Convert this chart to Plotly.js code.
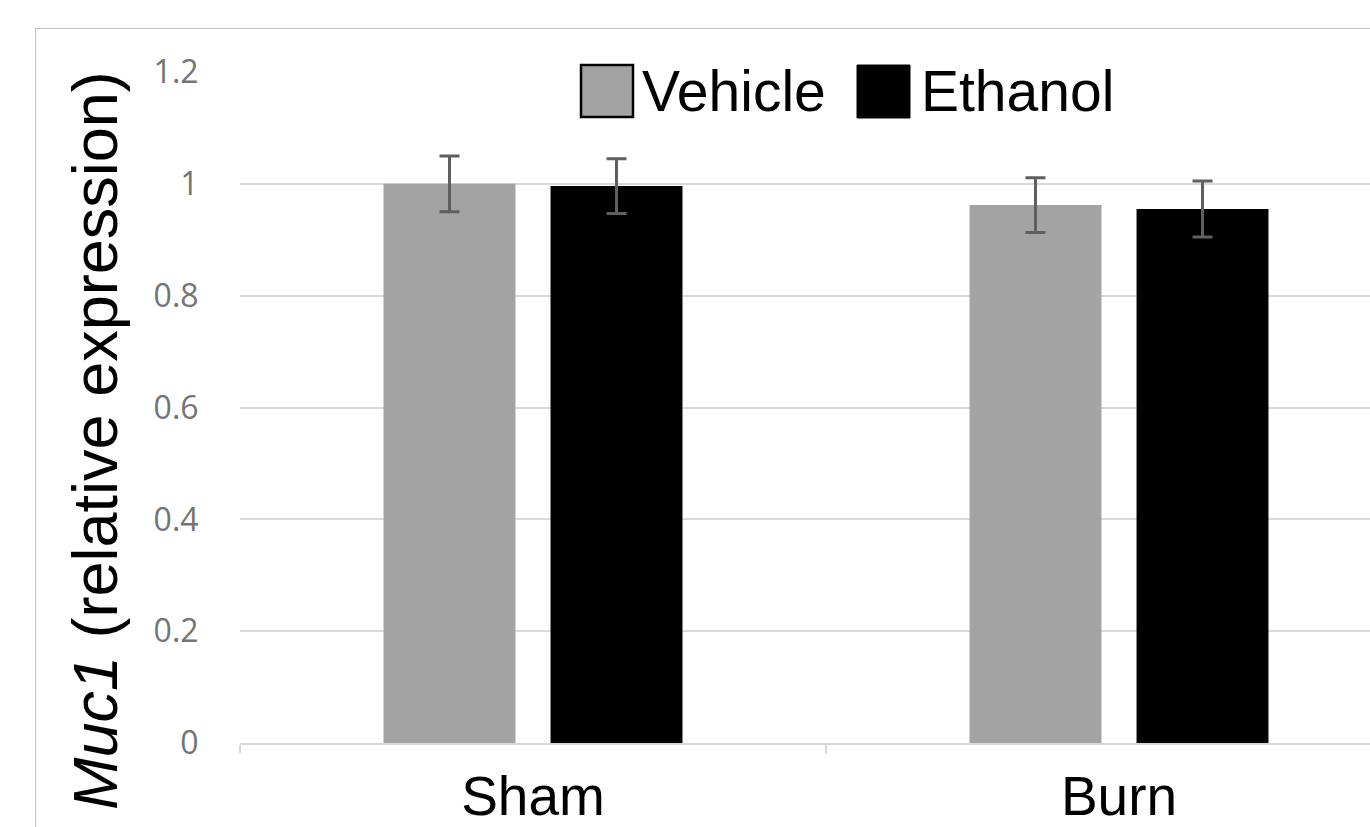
<!DOCTYPE html>
<html>
<head>
<meta charset="utf-8">
<script src="https://cdn.plot.ly/plotly-3.0.1.min.js"></script>
<style>
  html, body { margin:0; padding:0; overflow:hidden; background:#fff; width:1370px; height:827px; }
  #frame { position:absolute; left:35px; top:28px; width:1450px; height:900px; border:1px solid #c3c3c3; box-sizing:border-box; pointer-events:none; z-index:2; }
  #chart { position:absolute; left:0; top:0; width:1440px; height:870px; }
</style>
</head>
<body>
<div id="chart"></div>
<div id="frame"></div>
<script>
// ---- data ----
const categories = ["Sham", "Burn"];
const seriesNames = ["Vehicle", "Ethanol"];
const vehicleValues = [1.0, 0.962];
const vehicleErrors = [0.05, 0.049];
const ethanolValues = [0.996, 0.955];
const ethanolErrors = [0.049, 0.05];
const yTickValues = [0, 0.2, 0.4, 0.6, 0.8, 1.0, 1.2];
const yTickLabels = ["0", "0.2", "0.4", "0.6", "0.8", "1", "1.2"];

const W = 1440, H = 870;
const L = 240, R = 1412, T = 72, B = 743;
const px = v => (v - L) / (R - L);
const py = v => (B - v) / (B - T);

const errStyle = { type: "data", visible: true, color: "#5f5f5f", thickness: 3, width: 10 };

const traces = [
  { type: "bar", name: seriesNames[0], x: categories, y: vehicleValues,
    marker: { color: "#a3a3a3" },
    error_y: Object.assign({ array: vehicleErrors }, errStyle), showlegend: false },
  { type: "bar", name: seriesNames[1], x: categories, y: ethanolValues,
    marker: { color: "#000000" },
    error_y: Object.assign({ array: ethanolErrors }, errStyle), showlegend: false }
];

const legendFont = { family: "Liberation Sans, Arial, sans-serif", size: 57, color: "#000" };

const layout = {
  width: W, height: H,
  margin: { l: L, r: W - R, t: T, b: H - B, pad: 0 },
  paper_bgcolor: "rgba(0,0,0,0)",
  plot_bgcolor: "#fff",
  barmode: "group",
  bargap: 0.43,
  bargroupgap: 0.21,
  showlegend: false,
  xaxis: {
    type: "category",
    showline: true, linecolor: "#d9d9d9", linewidth: 2,
    ticks: "outside", tickson: "boundaries", ticklen: 9, tickcolor: "#d9d9d9", tickwidth: 2,
    showgrid: false, zeroline: false,
    tickfont: { family: "Liberation Sans, Arial, sans-serif", size: 55, color: "#000" },
    ticklabelstandoff: 4
  },
  yaxis: {
    range: [0, 1.2],
    tickvals: yTickValues, ticktext: yTickLabels,
    showgrid: true, gridcolor: "#d9d9d9", gridwidth: 2,
    zeroline: false, showline: false,
    ticks: "outside", ticklen: 34, tickcolor: "rgba(0,0,0,0)",
    tickfont: { family: "Open Sans, Liberation Sans, sans-serif", size: 32, color: "#747474" }
  },
  shapes: [
    { type: "rect", xref: "paper", yref: "paper", x0: px(551), x1: px(1145), y0: py(130), y1: py(45),
      fillcolor: "#fff", line: { width: 0 }, layer: "above" },
    { type: "rect", xref: "paper", yref: "paper", x0: px(581), x1: px(633), y0: py(117), y1: py(65),
      fillcolor: "#a3a3a3", line: { color: "#000", width: 2.5 }, layer: "above" },
    { type: "rect", xref: "paper", yref: "paper", x0: px(857), x1: px(910), y0: py(118), y1: py(65),
      fillcolor: "#000", line: { color: "#000", width: 1 }, layer: "above" }
  ],
  annotations: [
    { xref: "paper", yref: "paper", x: px(640), y: py(91), xanchor: "left", yanchor: "middle",
      text: seriesNames[0], showarrow: false, font: legendFont },
    { xref: "paper", yref: "paper", x: px(919), y: py(91), xanchor: "left", yanchor: "middle",
      text: seriesNames[1], showarrow: false, font: legendFont },
    { xref: "paper", yref: "paper", x: px(95), y: py(441), xanchor: "center", yanchor: "middle",
      textangle: -90, showarrow: false,
      text: "<i>Muc1</i> (relative expression)",
      font: { family: "Liberation Sans, Arial, sans-serif", size: 63, color: "#000" } }
  ]
};

Plotly.newPlot("chart", traces, layout, { displayModeBar: false, staticPlot: true });
</script>
</body>
</html>
